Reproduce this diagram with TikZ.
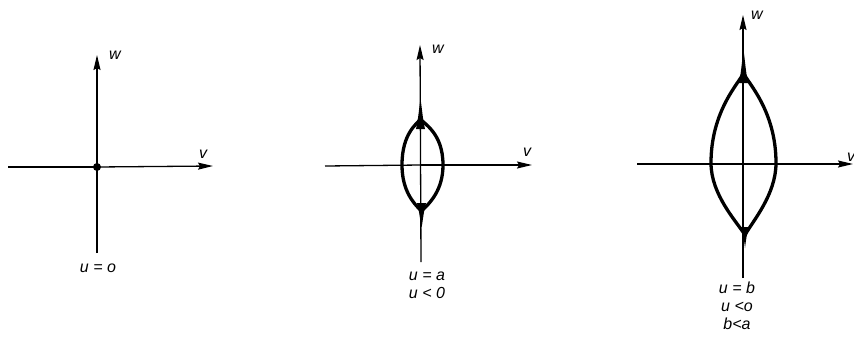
\documentclass[tikz,border=0pt]{standalone}
\usepackage{fontspec}
\setmainfont{Liberation Sans}
\usetikzlibrary{arrows.meta}
\begin{document}
\begin{tikzpicture}[x=1pt,y=-1pt,
  axis/.style={line width=1.3pt,-{Stealth[length=15pt,width=7pt,inset=2pt]}},
  plainaxis/.style={line width=1.3pt},
  lens/.style={line width=3.3pt,line join=round,line cap=round},
  lab/.style={font=\fontsize{16}{18}\selectfont\itshape,inner sep=0pt},
  cond/.style={font=\fontsize{16}{18}\selectfont\itshape,inner sep=0pt,align=center}]
\useasboundingbox (0,0) rectangle (854,338);
% ---------- panel 1
\coordinate (o1) at (97,167);
\coordinate (l1) at (8,167);
\coordinate (r1) at (213,166);
\coordinate (t1) at (97,55);
\coordinate (b1) at (97,253);
\draw[plainaxis] (l1) -- (o1);
\draw[axis] (o1) -- (r1);
\draw[axis] (b1) -- (t1);
\fill (o1) circle (4pt);
\node[lab] (w1) at (115,55) {w};
\node[lab] (v1) at (203,154) {v};
\node[cond] (c1) at (98,268) {u = o};
% ---------- panel 2
\coordinate (o2) at (421,165);
\coordinate (l2) at (325,166);
\coordinate (r2) at (532,165);
\coordinate (t2) at (420,45);
\coordinate (b2) at (421,262);
\draw[plainaxis] (l2) -- (o2);
\draw[axis] (o2) -- (r2);
\draw[axis] (b2) -- (t2);
\draw[lens] (420.5,119) .. controls (424,124) and (443,133) .. (443,165)
  .. controls (443,190) and (430,203) .. (421.5,211)
  .. controls (413,203) and (402,190) .. (402,165)
  .. controls (402,133) and (417,124) .. cycle;
\fill (416,129) .. controls (418.5,118) and (419,108) .. (420.5,99)
  .. controls (422,108) and (422.5,118) .. (425,129) -- cycle;
\fill (417,203) .. controls (419.5,212) and (420,220) .. (421.5,228)
  .. controls (423,220) and (423.5,212) .. (426,203) -- cycle;
\node[lab] (w2) at (438,49) {w};
\node[lab] (v2) at (527,152) {v};
\node[cond] (c2) at (427,285) {u = a\\u < 0};
% ---------- panel 3
\coordinate (o3) at (743,164);
\coordinate (l3) at (637,164);
\coordinate (r3) at (853,164);
\coordinate (t3) at (743,15);
\coordinate (b3) at (743,278);
\draw[plainaxis] (l3) -- (o3);
\draw[axis] (o3) -- (r3);
\draw[axis] (b3) -- (t3);
\draw[lens] (743.5,73) .. controls (747,82) and (776,110) .. (776,163)
  .. controls (776,195) and (752,222) .. (745,235)
  .. controls (737,222) and (711,195) .. (711,163)
  .. controls (711,110) and (740,82) .. cycle;
\fill (739,83) .. controls (741.5,70) and (742,60) .. (743.5,50)
  .. controls (745,60) and (745.5,70) .. (748,83) -- cycle;
\fill (741,227) .. controls (743.5,235) and (744,240) .. (745,248)
  .. controls (746,240) and (746.5,235) .. (749,227) -- cycle;
\node[lab] (w3) at (757,15) {w};
\node[lab,anchor=west] (v3) at (847,157) {v};
\node[cond] (c3) at (737,306) {u = b\\u <o\\b<a};
\end{tikzpicture}
\end{document}
